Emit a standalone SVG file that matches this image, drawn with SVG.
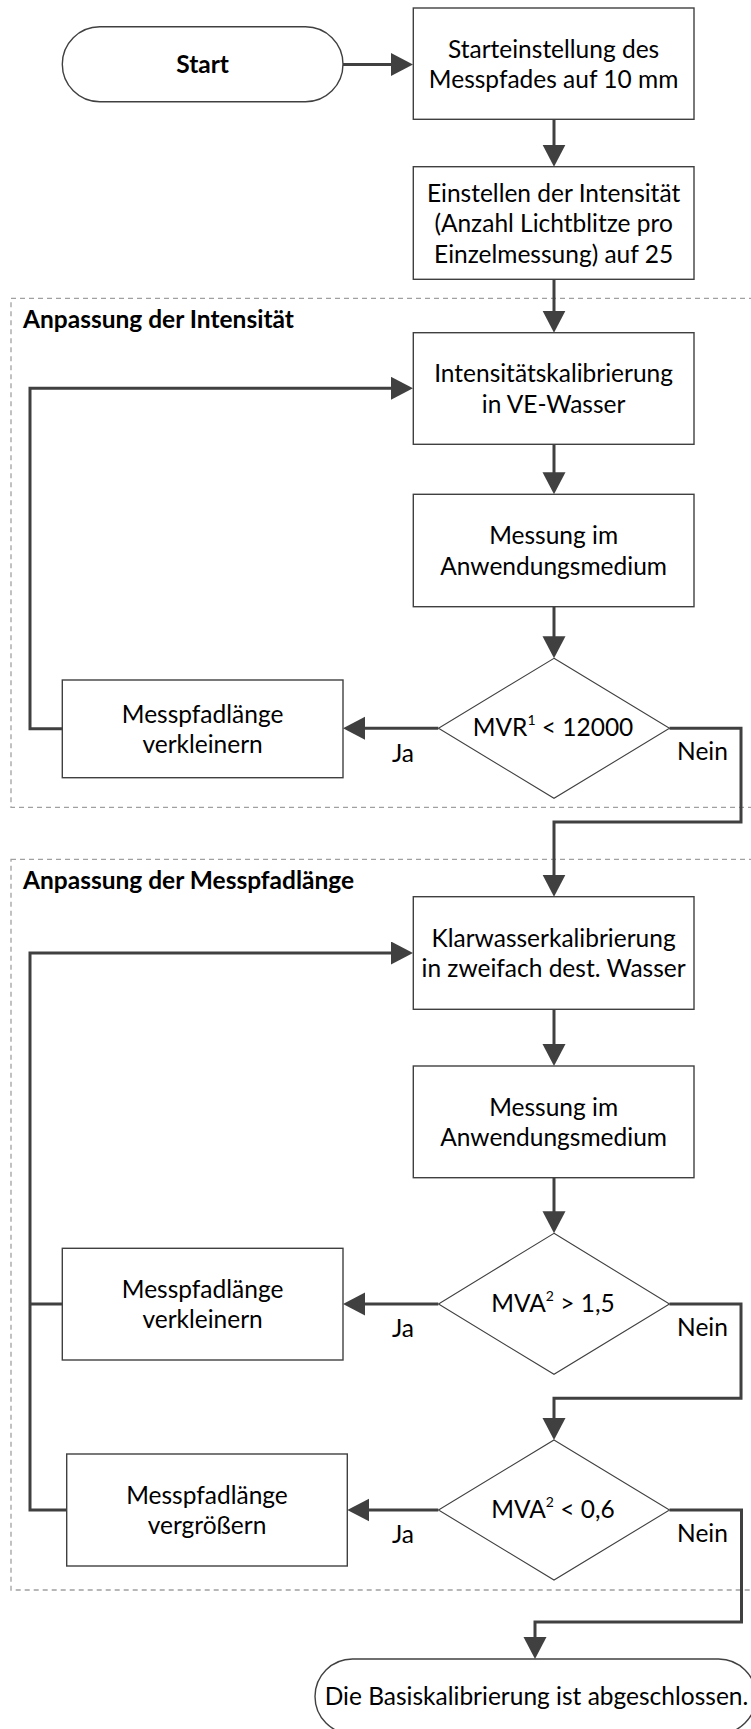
<svg xmlns="http://www.w3.org/2000/svg" width="751" height="1729" viewBox="0 0 751 1729">
<style>
.bx{fill:#fff;stroke:#404040;stroke-width:1.4}
.dm{fill:#fff;stroke:#404040;stroke-width:1.1}
.cn{fill:none;stroke:#404040;stroke-width:3;stroke-linejoin:miter}
.rg{fill:none;stroke:#a0a0a0;stroke-width:1.3;stroke-dasharray:5 4}
.t{font-family:Lato,"Liberation Sans",sans-serif;font-size:24.5px;fill:#000;text-anchor:middle}
.b{font-weight:bold}
.l{text-anchor:start}
.sup{font-size:14px}
</style>
<defs>
<marker id="ah" markerUnits="userSpaceOnUse" markerWidth="24" markerHeight="24" viewBox="0 0 24 24" refX="1" refY="11.5" orient="auto">
<path d="M0,0 L22,11.5 L0,23 Z" fill="#404040"/>
</marker>
</defs>
<g id="regions">
<rect class="rg" x="11" y="298.3" width="760" height="509"/>
<rect class="rg" x="11" y="859.3" width="760" height="730.7"/>
<text class="t b l" x="23" y="328.3">Anpassung der Intensität</text>
<text class="t b l" x="23" y="889.3">Anpassung der Messpfadlänge</text>
</g>
<g id="connectors">
<path class="cn" d="M343 64.5 H392" marker-end="url(#ah)"/>
<path class="cn" d="M554 119.3 V145.7" marker-end="url(#ah)"/>
<path class="cn" d="M554 279.3 V311.7" marker-end="url(#ah)"/>
<path class="cn" d="M554 444.3 V473.3" marker-end="url(#ah)"/>
<path class="cn" d="M554 606.7 V637.3" marker-end="url(#ah)"/>
<path class="cn" d="M438.3 728.3 H364" marker-end="url(#ah)"/>
<path class="cn" d="M62.3 728.8 H30 V388.3 H392" marker-end="url(#ah)"/>
<path class="cn" d="M669.5 728.3 H741 V822 H554 V875.7" marker-end="url(#ah)"/>
<path class="cn" d="M554 1009.3 V1045" marker-end="url(#ah)"/>
<path class="cn" d="M554 1177.7 V1212.3" marker-end="url(#ah)"/>
<path class="cn" d="M438.3 1304 H364" marker-end="url(#ah)"/>
<path class="cn" d="M62.3 1304 H30"/>
<path class="cn" d="M66.7 1510 H30 V953 H392" marker-end="url(#ah)"/>
<path class="cn" d="M669.5 1304 H741 V1398.3 H554 V1419" marker-end="url(#ah)"/>
<path class="cn" d="M438.3 1510 H368.3" marker-end="url(#ah)"/>
<path class="cn" d="M669.5 1510 H741.5 V1622 H535 V1638" marker-end="url(#ah)"/>
<text class="t" x="403" y="761.7">Ja</text>
<text class="t" x="702.5" y="760">Nein</text>
<text class="t" x="403" y="1337.4">Ja</text>
<text class="t" x="702.5" y="1336">Nein</text>
<text class="t" x="403" y="1543.4">Ja</text>
<text class="t" x="702.5" y="1542">Nein</text>
</g>
<g id="start">
<rect class="bx" x="62.3" y="26.7" width="280.7" height="75" rx="37.5" ry="37.5"/>
<text class="t b" x="202.6" y="73">Start</text>
</g>
<g id="box1">
<rect class="bx" x="413.3" y="8" width="280.7" height="111.3"/>
<text class="t" x="553.6" y="57.6">Starteinstellung des</text>
<text class="t" x="553.6" y="88">Messpfades auf 10 mm</text>
</g>
<g id="box2">
<rect class="bx" x="413.3" y="166.7" width="280.7" height="112.6"/>
<text class="t" x="553.6" y="201.5">Einstellen der Intensität</text>
<text class="t" x="553.6" y="232">(Anzahl Lichtblitze pro</text>
<text class="t" x="553.6" y="262.5">Einzelmessung) auf 25</text>
</g>
<g id="box3">
<rect class="bx" x="413.3" y="332.7" width="280.7" height="111.6"/>
<text class="t" x="553.6" y="382.3">Intensitätskalibrierung</text>
<text class="t" x="553.6" y="412.7">in VE-Wasser</text>
</g>
<g id="box4">
<rect class="bx" x="413.3" y="494.3" width="280.7" height="112.4"/>
<text class="t" x="553.6" y="544.3">Messung im</text>
<text class="t" x="553.6" y="574.7">Anwendungsmedium</text>
</g>
<g id="dec1">
<polygon class="dm" points="554,658.3 669.5,728.3 554,798.3 438.5,728.3"/>
<text class="t" x="553" y="736">MVR<tspan class="sup" dy="-11">1</tspan><tspan dy="11"> &lt; 12000</tspan></text>
</g>
<g id="box5">
<rect class="bx" x="62.3" y="680" width="280.7" height="97.7"/>
<text class="t" x="202.6" y="722.6">Messpfadlänge</text>
<text class="t" x="202.6" y="753">verkleinern</text>
</g>
<g id="box6">
<rect class="bx" x="413.3" y="896.7" width="280.7" height="112.6"/>
<text class="t" x="553.6" y="946.8">Klarwasserkalibrierung</text>
<text class="t" x="553.6" y="977.2">in zweifach dest. Wasser</text>
</g>
<g id="box7">
<rect class="bx" x="413.3" y="1066" width="280.7" height="111.7"/>
<text class="t" x="553.6" y="1115.6">Messung im</text>
<text class="t" x="553.6" y="1146">Anwendungsmedium</text>
</g>
<g id="dec2">
<polygon class="dm" points="554,1233.3 669.5,1304 554,1374.3 438.5,1304"/>
<text class="t" x="553" y="1312">MVA<tspan class="sup" dy="-11">2</tspan><tspan dy="11"> &gt; 1,5</tspan></text>
</g>
<g id="box8">
<rect class="bx" x="62.3" y="1248.3" width="280.7" height="111.7"/>
<text class="t" x="202.6" y="1297.8">Messpfadlänge</text>
<text class="t" x="202.6" y="1328.2">verkleinern</text>
</g>
<g id="dec3">
<polygon class="dm" points="554,1440 669.5,1510 554,1580 438.5,1510"/>
<text class="t" x="553" y="1518">MVA<tspan class="sup" dy="-11">2</tspan><tspan dy="11"> &lt; 0,6</tspan></text>
</g>
<g id="box9">
<rect class="bx" x="66.7" y="1454" width="280.6" height="112"/>
<text class="t" x="207" y="1503.6">Messpfadlänge</text>
<text class="t" x="207" y="1534">vergrößern</text>
</g>
<g id="end">
<rect class="bx" x="315" y="1659" width="441" height="75" rx="37.5" ry="37.5"/>
<text class="t" x="536.5" y="1705">Die Basiskalibrierung ist abgeschlossen.</text>
</g>
</svg>
